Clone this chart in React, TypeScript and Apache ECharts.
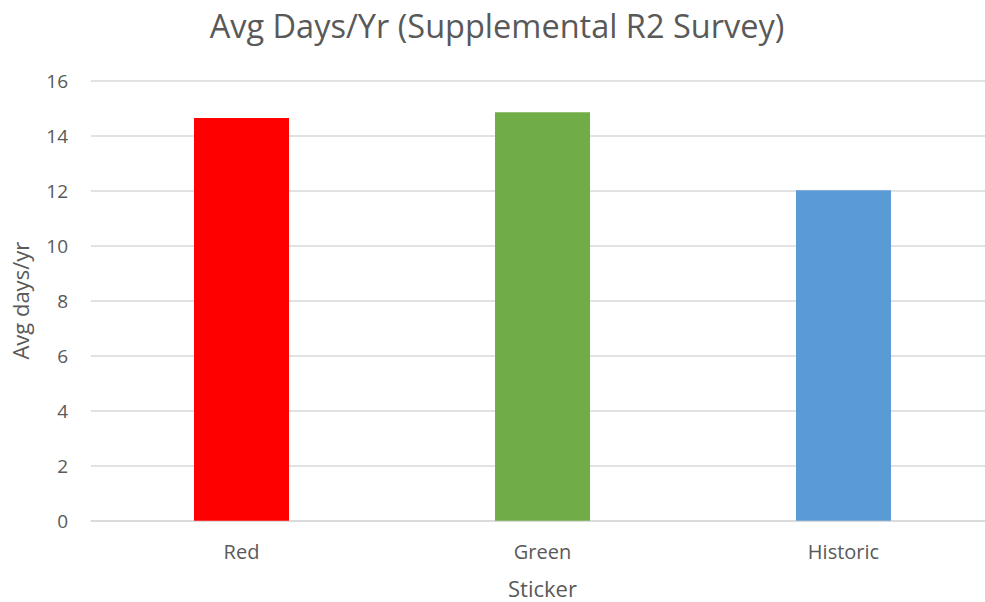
import React, { useEffect, useRef } from "react";
import * as echarts from "echarts";

const categories = ["Red", "Green", "Historic"];
const values = [14.64, 14.85, 12.02];
const barColors = ["#FF0000", "#70AD47", "#5B9BD5"];
const titleText = "Avg Days/Yr (Supplemental R2 Survey)";
const yAxisName = "Avg days/yr";
const xAxisName = "Sticker";

export default function App() {
  const ref = useRef<HTMLDivElement>(null);
  useEffect(() => {
    if (!ref.current) return;
    const chart = echarts.init(ref.current, null, { renderer: "svg" });
    const font = "'Open Sans', 'Noto Sans', sans-serif";
    chart.setOption({
      animation: false,
      backgroundColor: "#ffffff",
      title: {
        text: titleText,
        left: "center",
        top: 4,
        textStyle: { fontFamily: font, fontSize: 32.5, fontWeight: "normal", color: "#595959" },
      },
      grid: {
        left: 91,
        right: 0,
        top: 80.7,
        bottom: 81.3,
        containLabel: false,
        outerBoundsMode: "none",
      },
      xAxis: {
        type: "category",
        data: categories,
        name: xAxisName,
        nameLocation: "middle",
        nameGap: 56,
        nameTextStyle: { fontFamily: font, fontSize: 22, color: "#595959" },
        axisLine: { show: true, lineStyle: { color: "#d9d9d9", width: 1.5 } },
        axisTick: { show: false },
        axisLabel: { fontFamily: font, fontSize: 20, color: "#595959", margin: 21 },
      },
      yAxis: {
        type: "value",
        min: 0,
        max: 16,
        interval: 2,
        name: yAxisName,
        nameLocation: "middle",
        nameGap: 60,
        nameTextStyle: { fontFamily: font, fontSize: 22, color: "#595959" },
        axisLine: { show: false },
        axisTick: { show: false },
        axisLabel: { fontFamily: font, fontSize: 19, color: "#595959", margin: 23 },
        splitLine: { lineStyle: { color: "#d9d9d9", width: 1.5 } },
      },
      series: [
        {
          type: "bar",
          barWidth: 95,
          data: values.map((v, i) => ({ value: v, itemStyle: { color: barColors[i] } })),
        },
      ],
    });
    return () => chart.dispose();
  }, []);
  return (
    <div style={{ position: "fixed", left: 0, top: 0, width: 985, height: 602, overflow: "hidden", background: "#fff" }}>
      <div ref={ref} style={{ width: 994, height: 602 }} />
    </div>
  );
}
